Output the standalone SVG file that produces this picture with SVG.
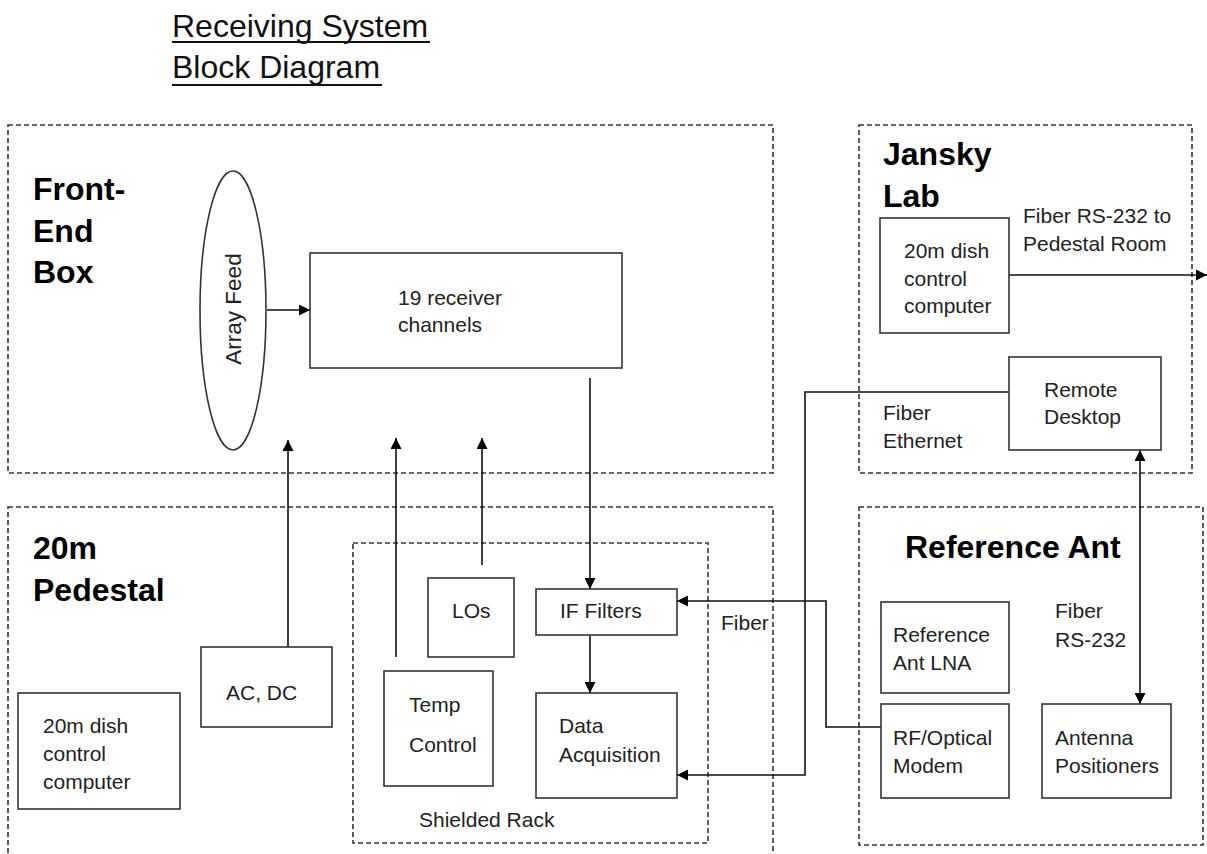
<svg xmlns="http://www.w3.org/2000/svg" width="1207" height="854" viewBox="0 0 1207 854">
<defs>
<marker id="ah" viewBox="0 0 10 10" refX="10" refY="5" markerWidth="11" markerHeight="11" markerUnits="userSpaceOnUse" orient="auto-start-reverse">
<path d="M0,0 L10,5 L0,10 z" fill="#000"/>
</marker>
<style>
.zone{fill:none;stroke:#333;stroke-width:1.6;stroke-dasharray:5 3}
.box{fill:#fff;stroke:#333;stroke-width:1.6}
.t{font-family:"Liberation Sans",Arial,sans-serif;font-size:21px;fill:#222}
.h{font-family:"Liberation Sans",Arial,sans-serif;font-size:32px;font-weight:bold;fill:#000}
.title{font-family:"Liberation Sans",Arial,sans-serif;font-size:32px;fill:#111}
.c{fill:none;stroke:#111;stroke-width:1.6}
</style>
</defs>
<rect width="1207" height="854" fill="#fff"/>
<g id="title">
<text class="title" x="172" y="37">Receiving System</text>
<line x1="172" y1="42" x2="430" y2="42" stroke="#111" stroke-width="2"/>
<text class="title" x="172" y="78">Block Diagram</text>
<line x1="172" y1="85" x2="382" y2="85" stroke="#111" stroke-width="2"/>
</g>
<g id="front-end-box">
<rect class="zone" x="8" y="125" width="765" height="348"/>
<text class="h" x="33" y="200">Front-</text>
<text class="h" x="33" y="242">End</text>
<text class="h" x="33" y="283">Box</text>
</g>
<g id="jansky-lab">
<rect class="zone" x="859" y="125" width="333" height="348"/>
<text class="h" x="883" y="165">Jansky</text>
<text class="h" x="883" y="207">Lab</text>
</g>
<g id="pedestal">
<rect class="zone" x="8" y="507" width="765" height="360"/>
<text class="h" x="33" y="559">20m</text>
<text class="h" x="33" y="601">Pedestal</text>
</g>
<g id="reference-ant">
<rect class="zone" x="859" y="507" width="344" height="338"/>
<text class="h" x="905" y="558">Reference Ant</text>
</g>
<g id="shielded-rack">
<rect class="zone" x="353" y="543" width="355" height="300"/>
<text class="t" x="419" y="827">Shielded Rack</text>
</g>
<g id="connectors">
<line class="c" x1="267" y1="310" x2="310" y2="310" marker-end="url(#ah)"/>
<line class="c" x1="288" y1="647" x2="288" y2="440" marker-end="url(#ah)"/>
<line class="c" x1="396" y1="657" x2="396" y2="438" marker-end="url(#ah)"/>
<line class="c" x1="482" y1="565" x2="482" y2="438" marker-end="url(#ah)"/>
<line class="c" x1="590" y1="378" x2="590" y2="589" marker-end="url(#ah)"/>
<line class="c" x1="590" y1="635" x2="590" y2="693" marker-end="url(#ah)"/>
<line class="c" x1="1009" y1="275" x2="1207" y2="275" marker-end="url(#ah)"/>
<polyline class="c" points="1009,392 805,392 805,775 677,775" marker-end="url(#ah)"/>
<polyline class="c" points="881,727 826,727 826,601 677,601" marker-end="url(#ah)"/>
<line class="c" x1="1140" y1="450" x2="1140" y2="704" marker-start="url(#ah)" marker-end="url(#ah)"/>
<text class="t" x="721" y="630">Fiber</text>
<text class="t" x="883" y="420">Fiber</text>
<text class="t" x="883" y="448">Ethernet</text>
<text class="t" x="1023" y="223">Fiber RS-232 to</text>
<text class="t" x="1023" y="251">Pedestal Room</text>
<text class="t" x="1055" y="618">Fiber</text>
<text class="t" x="1055" y="647">RS-232</text>
</g>
<g id="array-feed">
<ellipse class="box" cx="233" cy="310.5" rx="33" ry="139.5"/>
<text class="t" style="font-size:22.5px" transform="translate(241,309) rotate(-90)" text-anchor="middle">Array Feed</text>
</g>
<g id="receiver-channels">
<rect class="box" x="310" y="253" width="312" height="115"/>
<text class="t" x="398" y="305">19 receiver</text>
<text class="t" x="398" y="332">channels</text>
</g>
<g id="jansky-computer">
<rect class="box" x="880" y="218" width="129" height="115"/>
<text class="t" x="904" y="258">20m dish</text>
<text class="t" x="904" y="286">control</text>
<text class="t" x="904" y="313">computer</text>
</g>
<g id="remote-desktop">
<rect class="box" x="1009" y="357" width="152" height="93"/>
<text class="t" x="1044" y="397">Remote</text>
<text class="t" x="1044" y="424">Desktop</text>
</g>
<g id="pedestal-computer">
<rect class="box" x="18" y="693" width="162" height="116"/>
<text class="t" x="43" y="733">20m dish</text>
<text class="t" x="43" y="761">control</text>
<text class="t" x="43" y="789">computer</text>
</g>
<g id="ac-dc">
<rect class="box" x="201" y="647" width="131" height="80"/>
<text class="t" x="226" y="700">AC, DC</text>
</g>
<g id="temp-control">
<rect class="box" x="384" y="671" width="109" height="115"/>
<text class="t" x="409" y="712">Temp</text>
<text class="t" x="409" y="752">Control</text>
</g>
<g id="los">
<rect class="box" x="428" y="578" width="86" height="79"/>
<text class="t" x="452" y="618">LOs</text>
</g>
<g id="if-filters">
<rect class="box" x="536" y="589" width="141" height="46"/>
<text class="t" x="560" y="618">IF Filters</text>
</g>
<g id="data-acquisition">
<rect class="box" x="536" y="693" width="141" height="105"/>
<text class="t" x="559" y="733">Data</text>
<text class="t" x="559" y="762">Acquisition</text>
</g>
<g id="ref-lna">
<rect class="box" x="881" y="602" width="128" height="91"/>
<text class="t" x="893" y="642">Reference</text>
<text class="t" x="893" y="670">Ant LNA</text>
</g>
<g id="rf-modem">
<rect class="box" x="881" y="704" width="128" height="94"/>
<text class="t" x="893" y="745">RF/Optical</text>
<text class="t" x="893" y="773">Modem</text>
</g>
<g id="antenna-positioners">
<rect class="box" x="1042" y="704" width="129" height="94"/>
<text class="t" x="1055" y="745">Antenna</text>
<text class="t" x="1055" y="773">Positioners</text>
</g>
</svg>
